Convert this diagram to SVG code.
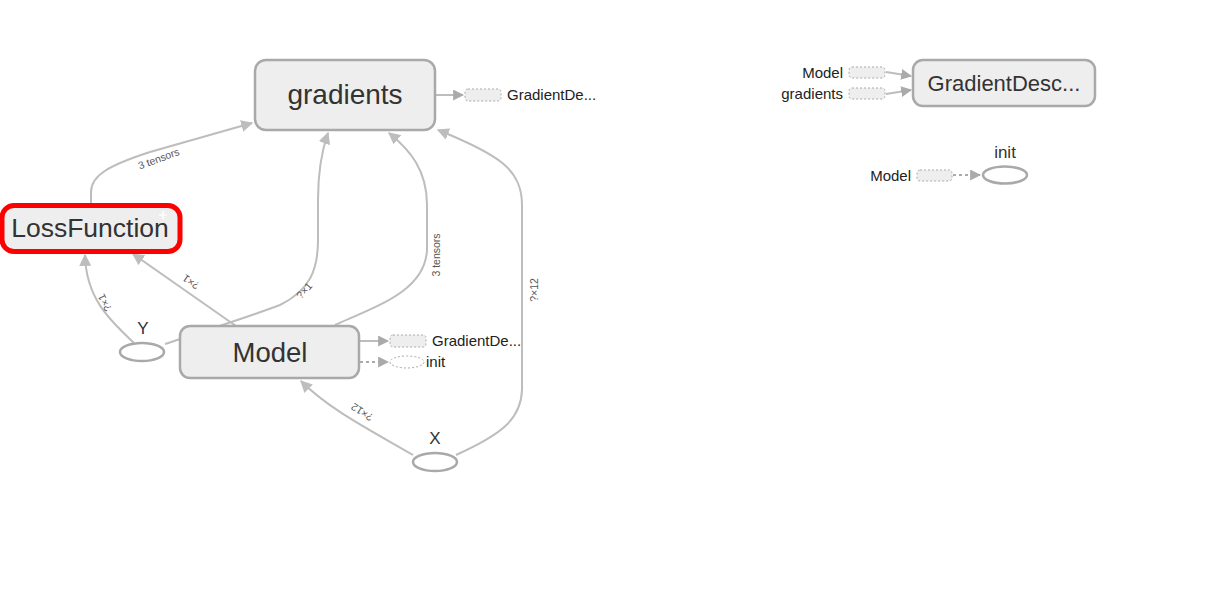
<svg xmlns="http://www.w3.org/2000/svg" width="1215" height="591" viewBox="0 0 1215 591">
<defs>
<style>
.node{fill:#eeeeee;stroke:#a9a9a9;stroke-width:2.5}
.big{font-family:"Liberation Sans",Arial,sans-serif;fill:#333;text-anchor:middle}
.lbl{font-family:"Liberation Sans",Arial,sans-serif;fill:#222;font-size:15px}
.elbl{font-family:"Liberation Sans",Arial,sans-serif;fill:#555;font-size:10.5px;text-anchor:middle}
.edge{fill:none;stroke:#bdbdbd;stroke-width:2}
.dot{fill:none;stroke:#aaa;stroke-width:2;stroke-dasharray:3,3}
.stub{fill:#eeeeee;stroke:#aaa;stroke-width:1;stroke-dasharray:2,2}
.ell{fill:#fff;stroke:#a9a9a9;stroke-width:2.5}
</style>
<marker id="arr" viewBox="0 0 10 10" refX="9" refY="5" markerWidth="12" markerHeight="12" markerUnits="userSpaceOnUse" orient="auto"><path d="M0,0 L10,5 L0,10 z" fill="#bdbdbd"/></marker>
<marker id="arr2" viewBox="0 0 10 10" refX="9" refY="5" markerWidth="11" markerHeight="11" markerUnits="userSpaceOnUse" orient="auto"><path d="M0,0 L10,5 L0,10 z" fill="#aaa"/></marker>
</defs>
<rect width="1215" height="591" fill="#fff"/>
<g id="connectors">
<path class="edge" marker-end="url(#arr)" d="M91,205 L91,192 C91,175 110,165 150,152 L252,123"/>
<text class="elbl" transform="translate(160,162) rotate(-20)">3 tensors</text>
<path class="edge" marker-end="url(#arr)" d="M134,343 C112,322 86,300 85,255"/>
<text class="elbl" transform="translate(108,301) rotate(243)">?×1</text>
<path class="edge" marker-end="url(#arr)" d="M236,326 L133,254"/>
<text class="elbl" transform="translate(193,279) rotate(215)">?×1</text>
<path class="edge" marker-end="url(#arr)" d="M165,344 C200,332 240,320 280,305 C310,290 318,270 318,240 L318,200 C318,170 322,150 328,133"/>
<text class="elbl" transform="translate(307,293) rotate(-48)">?×1</text>
<path class="edge" marker-end="url(#arr)" d="M335,325 C380,305 425,290 427,250 L427,205 C427,170 410,150 389,133"/>
<text class="elbl" transform="translate(440,255) rotate(-90)">3 tensors</text>
<path class="edge" marker-end="url(#arr)" d="M456,455 C500,435 521,420 522,390 L522,205 C522,170 500,155 438,130"/>
<text class="elbl" transform="translate(538,290) rotate(-90)">?×12</text>
<path class="edge" marker-end="url(#arr)" d="M413,455 C370,430 330,410 301,381"/>
<text class="elbl" transform="translate(364,409) rotate(213)">?×12</text>
<path class="edge" marker-end="url(#arr2)" stroke="#aaa" d="M436,95 L463,95"/>
<path class="edge" marker-end="url(#arr2)" stroke="#aaa" d="M360,341 L388,341"/>
<path class="dot" marker-end="url(#arr2)" d="M360,362 L388,362"/>
<path class="edge" marker-end="url(#arr2)" stroke="#aaa" d="M886,72 L911,76"/>
<path class="edge" marker-end="url(#arr2)" stroke="#aaa" d="M886,94 L911,90"/>
<path class="dot" marker-end="url(#arr2)" d="M953,175 L980,175"/>
</g>
<g id="gradients">
<rect class="node" x="255" y="60" width="180" height="70" rx="11"/>
<text class="big" x="345" y="104" font-size="28">gradients</text>
</g>
<g id="gradients_out">
<rect class="stub" x="465" y="89" width="36" height="12" rx="3"/>
<text class="lbl" x="507" y="100">GradientDe...</text>
</g>
<g id="LossFunction">
<rect x="2" y="205.5" width="178" height="46" rx="12" fill="#eeeeee" stroke="#ff0000" stroke-width="5"/>
<text class="big" x="90" y="237" font-size="26.5">LossFunction</text>
<path d="M163,211 v8 M159,215 h8" stroke="#fff" stroke-width="1.5"/>
</g>
<g id="Model">
<rect class="node" x="180" y="326" width="179" height="52" rx="10"/>
<text class="big" x="270" y="362" font-size="27.5">Model</text>
</g>
<g id="Model_out_gd">
<rect class="stub" x="390" y="335" width="36" height="12" rx="3"/>
<text class="lbl" x="432" y="346">GradientDe...</text>
</g>
<g id="Model_out_init">
<ellipse cx="407" cy="362" rx="17" ry="6" fill="#fff" stroke="#aaa" stroke-width="1" stroke-dasharray="2,2"/>
<text class="lbl" x="426" y="367">init</text>
</g>
<g id="Y">
<ellipse class="ell" cx="142" cy="352" rx="22" ry="9"/>
<text class="big" x="143" y="334" font-size="17">Y</text>
</g>
<g id="X">
<ellipse class="ell" cx="435" cy="462" rx="22" ry="9"/>
<text class="big" x="435" y="444" font-size="17">X</text>
</g>
<g id="GradientDescent">
<rect class="node" x="913" y="60" width="182" height="46" rx="10"/>
<text class="big" x="1004" y="91" font-size="22">GradientDesc...</text>
</g>
<g id="GD_in_Model">
<text class="lbl" x="843" y="78" text-anchor="end">Model</text>
<rect class="stub" x="849" y="67" width="36" height="11" rx="3"/>
</g>
<g id="GD_in_gradients">
<text class="lbl" x="843" y="99" text-anchor="end">gradients</text>
<rect class="stub" x="849" y="88" width="36" height="11" rx="3"/>
</g>
<g id="init">
<ellipse class="ell" cx="1005" cy="175" rx="22" ry="8.5"/>
<text class="big" x="1005" y="158" font-size="17">init</text>
</g>
<g id="init_in_Model">
<text class="lbl" x="911" y="181" text-anchor="end">Model</text>
<rect class="stub" x="917" y="170" width="35" height="11" rx="3"/>
</g>
</svg>
